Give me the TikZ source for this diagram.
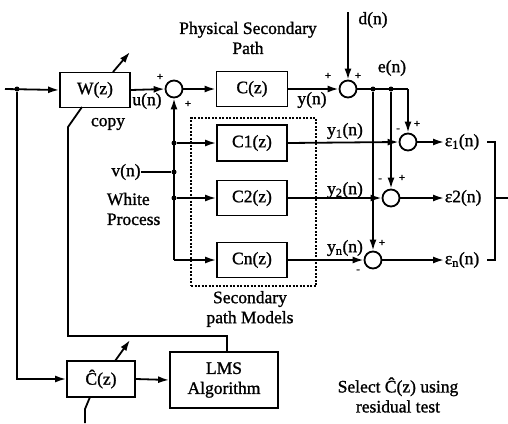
\documentclass[tikz,border=0pt]{standalone}
\usepackage{fontspec}
\setmainfont{Liberation Serif}[FakeBold=1.2]
\usetikzlibrary{arrows.meta}
\begin{document}
\begin{tikzpicture}[x=1pt,y=-1pt,
  line width=1.8pt,
  every node/.style={font=\fontsize{17.5}{20}\selectfont, inner sep=0pt},
  blk/.style={draw, rectangle, minimum width=70pt, minimum height=35pt},
  sumc/.style={draw, circle, minimum size=17pt},
  sig/.style={-{Latex[length=11pt,width=7pt]}},
  sgn/.style={font=\fontsize{11}{12}\selectfont},
  dot/.style={circle, fill, minimum size=5pt},
  dashbox/.style={draw, dash pattern=on 2pt off 1.5pt, line width=1.3pt}
]
\useasboundingbox (0,0) rectangle (508,423);

% blocks
\node[blk] (W) at (95,90) {W(z)};
\node[sumc] (s1) at (174,89) {};
\node[blk, minimum width=71pt] (C) at (252,89) {C(z)};
\node[sumc] (s2) at (348,89) {};
\node[dashbox, minimum width=125pt, minimum height=168pt] (models) at (253.5,202) {};
\node[blk, minimum height=36pt] (C1) at (252,143) {C1(z)};
\node[blk] (C2) at (252,198) {C2(z)};
\node[blk] (Cn) at (252,260) {Cn(z)};
\node[sumc] (s3) at (408,142) {};
\node[sumc] (s4) at (391,198) {};
\node[sumc] (s5) at (373,260) {};
\node[blk, minimum width=68pt, minimum height=36pt] (hatC) at (101,379) {Ĉ(z)};
\node[blk, minimum width=108pt, minimum height=56pt, align=center] (LMS) at (224,380) {LMS\\Algorithm};

% coordinates and dots
\coordinate (in) at (5,89);
\node[dot] (din) at (17,89) {};
\coordinate (dtop) at (348,12);
\node[dot] (e1) at (373,89) {};
\node[dot] (e2) at (391,89) {};
\coordinate (e3) at (408,89);
\node[dot] (v1) at (174,143) {};
\node[dot] (vj) at (174,172) {};
\node[dot] (v2) at (174,198) {};
\coordinate (vc) at (174,260);

% labels
\node (psp) [align=center] at (248,38) {Physical Secondary\\Path};
\node (dlab) at (373,20) {d(n)};
\node (elab) at (392,68) {e(n)};
\node (ulab) at (147,101) {u(n)};
\node (ylab) at (312,100) {y(n)};
\node (copy) at (108,124) {copy};
\node (vlab) at (126,172) {v(n)};
\node (white) [align=left, anchor=west] at (106,209) {White\\Process};
\node (y1lab) at (345,131) {y\textsubscript{1}(n)};
\node (y2lab) at (345,190) {y\textsubscript{2}(n)};
\node (ynlab) at (345,248) {y\textsubscript{n}(n)};
\node (eps1) [anchor=west] at (444,142) {ε\textsubscript{1}(n)};
\node (eps2) [anchor=west] at (444,198) {ε2(n)};
\node (epsn) [anchor=west] at (444,260) {ε\textsubscript{n}(n)};
\node (spm) [align=center] at (250,309) {Secondary\\path Models};
\node (sel) [align=center] at (398,395) {Select Ĉ(z) using\\residual test};

% signs
\node[sgn] (p1a) at (160,77) {+};
\node[sgn] (p1b) at (188,104) {+};
\node[sgn] (p2a) at (328,76) {+};
\node[sgn] (p2b) at (358,76) {+};
\node[sgn] (m3) at (398,130) {-};
\node[sgn] (p3) at (417,124) {+};
\node[sgn] (m4) at (380,180) {-};
\node[sgn] (p4) at (402,178) {+};
\node[sgn] (p5) at (382,243) {+};
\node[sgn] (m5) at (358,271) {-};

% main path
\draw[sig] (in) -- (W.west);
\draw[sig] (W.east) -- (s1.west);
\draw[sig] (s1.east) -- (C.west);
\draw[sig] (C.east) -- (s2.west);
\draw[sig] (dtop) -- (s2.north);
\draw (s2.east) -- (e3);
\draw[sig] (e3) -- (s3.north);
\draw[sig] (e2) -- (s4.north);
\draw[sig] (e1) -- (s5.north);

% model outputs
\draw[sig] (C1.east) -- (s3.west);
\draw[sig] (C2.east) -- (s4.west);
\draw[sig] (Cn.east) -- (s5.west);

% error outputs
\draw[sig] (s3.east) -- (eps1.west);
\draw[sig] (s4.east) -- (eps2.west);
\draw[sig] (s5.east) -- (epsn.west);
\coordinate (t1) at (487,142);
\coordinate (b1) at (495,142);
\coordinate (b2) at (495,198);
\coordinate (bn) at (495,260);
\coordinate (tn) at (487,260);
\coordinate (out) at (508,198);
\draw (t1) -- (b1) -- (bn) -- (tn);
\draw (b2) -- (out);

% white noise
\draw[sig] (vc) -- (s1.south);
\draw[sig] (vc) -- (Cn.west);
\draw[sig] (v1) -- (C1.west);
\draw[sig] (v2) -- (C2.west);
\draw (vlab.east) -- (vj);

% lower loop
\draw[sig] (din) |- (hatC.west);
\draw[sig] (hatC.east) -- (LMS.west);
\coordinate (c1) at (227,336);
\coordinate (c2) at (68,336);
\coordinate (c3) at (68,127);
\coordinate (c4) at (82,107);
\draw (LMS.north -| c1) -- (c1) -- (c2) -- (c3) -- (c4);
\coordinate (h1) at (90,397);
\coordinate (h2) at (85,409);
\coordinate (h3) at (85,423);
\draw (h1) -- (h2) -- (h3);

% adaptive arrows
\coordinate (aw1) at (113,72);
\coordinate (aw2) at (130,52);
\draw[sig] (aw1) -- (aw2);
\coordinate (ah1) at (115,361);
\coordinate (ah2) at (130,340);
\draw[sig] (ah1) -- (ah2);
\end{tikzpicture}
\end{document}
